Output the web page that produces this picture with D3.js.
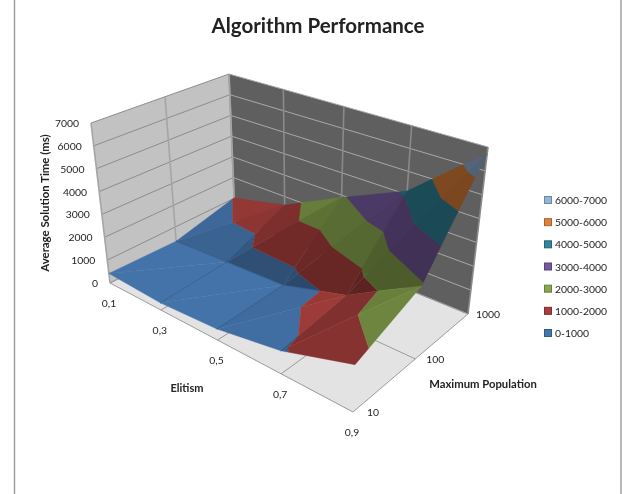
<!DOCTYPE html>
<html>
<head>
<meta charset="utf-8">
<script src="https://cdn.jsdelivr.net/npm/d3@7"></script>
<style>
    html, body { margin: 0; padding: 0; background: #fff; }
    svg { display: block; filter: blur(0.35px); }
    text { font-family: Lato, "Open Sans", sans-serif; fill: #222; }
</style>
</head>
<body>
<div id="chart"></div>
<script>
// surface values (ms), rows by max population, columns by elitism
const elitismLabels = ["0,1", "0,3", "0,5", "0,7", "0,9"];
const populationLabels = ["10", "100", "1000"];
const timesPop10 = [420, 300, 450, 900, 1780];
const timesPop100 = [350, 450, 550, 1300, 2900];
const timesPop1000 = [1020, 1600, 2900, 4150, 6700];
const zTicks = [0, 1000, 2000, 3000, 4000, 5000, 6000, 7000];

const bandNames = ["6000-7000", "5000-6000", "4000-5000", "3000-4000", "2000-3000", "1000-2000", "0-1000"];
const bandColor = ["#95b3d7", "#e0823a", "#31859c", "#775a9f", "#8aa84f", "#a83f3c", "#4676ae"];

const width = 622, height = 494;
const grid = [timesPop10, timesPop100, timesPop1000];

const svg = d3.select("#chart").append("svg")
    .attr("width", width)
    .attr("height", height);

// page edges of the chart frame
svg.append("line").attr("x1", 14.5).attr("x2", 14.5).attr("y1", 0).attr("y2", height).attr("stroke", "#999").attr("stroke-width", 1.4);
svg.append("line").attr("x1", 621).attr("x2", 621).attr("y1", 0).attr("y2", height).attr("stroke", "#999").attr("stroke-width", 1.4);

// corners of the 3D box on screen: [e=0.1/p=10, e=0.9/p=10, e=0.9/p=1000, e=0.1/p=1000]
const floorQuad = [[110, 283], [353, 412], [468, 314], [235, 219]];
const topQuad = [[91, 123], [361, 226], [488, 147], [229, 74]];

// square -> quad homography
function squareToQuad(q) {
    const [[x0, y0], [x1, y1], [x2, y2], [x3, y3]] = q;
    const dx3 = x0 - x1 + x2 - x3, dy3 = y0 - y1 + y2 - y3;
    const dx1 = x1 - x2, dx2 = x3 - x2, dy1 = y1 - y2, dy2 = y3 - y2;
    const den = dx1 * dy2 - dx2 * dy1;
    const g = (dx3 * dy2 - dx2 * dy3) / den;
    const h = (dx1 * dy3 - dx3 * dy1) / den;
    const a = x1 - x0 + g * x1, b = x3 - x0 + h * x3, d = y1 - y0 + g * y1, e = y3 - y0 + h * y3;
    return (u, v) => {
        const w = g * u + h * v + 1;
        return [(a * u + b * v + x0) / w, (d * u + e * v + y0) / w];
    };
}
const floorAt = squareToQuad(floorQuad);
const topAt = squareToQuad(topQuad);

const xE = d3.scaleLinear().domain([0, elitismLabels.length - 1]).range([0, 1]);
const yP = d3.scaleLinear().domain([0, populationLabels.length - 1]).range([0, 1]);
const zT = d3.scaleLinear().domain([0, 7000]).range([0, 1]);

// i = elitism index, j = population index, t = time
function project(i, j, t) {
    const u = xE(i), v = yP(j), w = zT(t);
    const a = floorAt(u, v), b = topAt(u, v);
    return [a[0] + (b[0] - a[0]) * w, a[1] + (b[1] - a[1]) * w];
}

const line = d3.line();
const closed = d3.line().curve(d3.curveLinearClosed);

function drawWall(pts, fill) {
    svg.append("path").attr("d", closed(pts)).attr("fill", fill);
}
const iMax = elitismLabels.length - 1, jMax = populationLabels.length - 1;

drawWall([project(0, 0, 0), project(iMax, 0, 0), project(iMax, jMax, 0), project(0, jMax, 0)], "#e3e3e3");
drawWall([project(0, 0, 0), project(0, jMax, 0), project(0, jMax, 7000), project(0, 0, 7000)], "#c2c2c2");
drawWall([project(0, jMax, 0), project(iMax, jMax, 0), project(iMax, jMax, 7000), project(0, jMax, 7000)], "#5f5f5f");

// wall + floor gridlines
const gridG = svg.append("g").attr("fill", "none");
zTicks.forEach(t => {
    gridG.append("path").attr("stroke", "#8c8c8c").attr("d", line([project(0, 0, t), project(0, jMax, t)]));
    gridG.append("path").attr("stroke", "#a8a8a8").attr("d", line([project(0, jMax, t), project(iMax, jMax, t)]));
});
d3.range(iMax + 1).forEach(i => {
    gridG.append("path").attr("stroke", "#8a8a8a").attr("stroke-width", 1.6).attr("d", line([project(i, jMax, 0), project(i, jMax, 7000)]));
    gridG.append("path").attr("stroke", "#9a9a9a").attr("d", line([project(i, 0, 0), project(i, jMax, 0)]));
});
d3.range(jMax + 1).forEach(j => {
    gridG.append("path").attr("stroke", "#a5a5a5").attr("stroke-width", 1.6).attr("d", line([project(0, j, 0), project(0, j, 7000)]));
    gridG.append("path").attr("stroke", "#9a9a9a").attr("d", line([project(0, j, 0), project(iMax, j, 0)]));
});

// clip a polygon of [i, j, t] against a time plane
function clipPoly(poly, limit, keepAbove) {
    const inside = p => keepAbove ? p[2] >= limit : p[2] <= limit;
    const out = [];
    poly.forEach((p, k) => {
        const q = poly[(k + 1) % poly.length];
        if (inside(p)) out.push(p);
        if (inside(p) !== inside(q)) {
            const s = (limit - p[2]) / (q[2] - p[2]);
            out.push([p[0] + (q[0] - p[0]) * s, p[1] + (q[1] - p[1]) * s, limit]);
        }
    });
    return out;
}

// facet brightness: light straight overhead, steeper facets go darker
function facetShade(tri) {
    const [a, b, c] = tri;
    const ux = b[0] - a[0], uy = b[1] - a[1], uz = (b[2] - a[2]) * 0.0007;
    const vx = c[0] - a[0], vy = c[1] - a[1], vz = (c[2] - a[2]) * 0.0007;
    const nx = uy * vz - uz * vy, ny = uz * vx - ux * vz, nz = ux * vy - uy * vx;
    return 0.34 + 0.64 * Math.abs(nz) / Math.hypot(nx, ny, nz);
}

function tinted(color, k) {
    const c = d3.rgb(color);
    return d3.rgb(c.r * k, c.g * k, c.b * k).formatHex();
}

// every cell -> 2 triangles split on the (i,j)-(i+1,j+1) diagonal, painted back to front
const facets = [];
d3.range(iMax).forEach(i => {
    d3.range(jMax).forEach(j => {
        const a = [i, j, grid[j][i]], b = [i + 1, j, grid[j][i + 1]],
              c = [i + 1, j + 1, grid[j + 1][i + 1]], d = [i, j + 1, grid[j + 1][i]];
        [[a, c, d], [a, b, c]].forEach(tri => {
            const cu = d3.mean(tri, p => p[0]) / iMax, cv = d3.mean(tri, p => p[1]) / jMax;
            facets.push({ tri, depth: cu - cv });
        });
    });
});
facets.sort((p, q) => d3.ascending(p.depth, q.depth));

const surface = svg.append("g");
facets.forEach(f => {
    const shade = facetShade(f.tri);
    bandNames.slice().reverse().forEach((name, k) => {
        const fill = bandColor[bandColor.length - 1 - k];
        const lo = k * 1000, hi = (k + 1) * 1000;
        let poly = clipPoly(f.tri, lo, true);
        if (poly.length) poly = clipPoly(poly, hi, false);
        if (poly.length < 3) return;
        const col = tinted(fill, shade);
        surface.append("path")
            .attr("d", closed(poly.map(p => project(p[0], p[1], p[2]))))
            .attr("fill", col)
            .attr("stroke", col)
            .attr("stroke-width", 0.4);
    });
});

// thin mesh lines only show on the lowest band
function meshSegment(p, q) {
    const seg = clipPoly([p, q], 1000, false);
    if (seg.length < 2) return;
    surface.append("path")
        .attr("d", line(seg.slice(0, 2).map(s => project(s[0], s[1], s[2]))))
        .attr("fill", "none")
        .attr("stroke", "#2f5582")
        .attr("stroke-width", 0.7);
}
grid.forEach((row, j) => row.forEach((t, i) => {
    if (i < iMax && j > 0 && j < jMax) meshSegment([i, j, t], [i + 1, j, row[i + 1]]);
    if (j < jMax && i > 0 && i < iMax) meshSegment([i, j, t], [i, j + 1, grid[j + 1][i]]);
}));

// axis text
const tickFont = 10.4;
svg.append("g").selectAll("text").data(zTicks).join("text")
    .attr("x", d => project(0, 0, d)[0] - 12)
    .attr("y", d => project(0, 0, d)[1] + 4)
    .attr("text-anchor", "end")
    .attr("font-size", tickFont)
    .text(d => d);
svg.append("g").selectAll("text").data(elitismLabels).join("text")
    .attr("x", (d, i) => project(i, 0, 0)[0] - 1)
    .attr("y", (d, i) => project(i, 0, 0)[1] + 24)
    .attr("text-anchor", "middle")
    .attr("font-size", tickFont)
    .text(d => d);
svg.append("g").selectAll("text").data(populationLabels).join("text")
    .attr("x", (d, j) => project(iMax, j, 0)[0] + 20)
    .attr("y", (d, j) => project(iMax, j, 0)[1] + 4)
    .attr("text-anchor", "middle")
    .attr("font-size", tickFont)
    .text(d => d);

svg.append("text").attr("x", 318).attr("y", 33).attr("text-anchor", "middle")
    .attr("font-size", 20.5).attr("font-weight", 700).text("Algorithm Performance");
svg.append("text").attr("transform", "translate(49,203) rotate(-90)").attr("text-anchor", "middle")
    .attr("font-size", 11.4).attr("font-weight", 700).text("Average Solution Time (ms)");
svg.append("text").attr("x", 187).attr("y", 392).attr("text-anchor", "middle")
    .attr("font-size", 11).attr("font-weight", 700).text("Elitism");
svg.append("text").attr("x", 483).attr("y", 388).attr("text-anchor", "middle")
    .attr("font-size", 11.3).attr("font-weight", 700).text("Maximum Population");

// legend
const legendY = d3.scalePoint().domain(bandNames).range([200, 333]);
const legend = svg.append("g").selectAll("g").data(bandNames).join("g")
    .attr("transform", d => `translate(544,${legendY(d)})`);
legend.append("rect").attr("x", 0.5).attr("y", -3.5).attr("width", 7).attr("height", 7)
    .attr("fill", (d, i) => bandColor[i])
    .attr("stroke", (d, i) => d3.rgb(bandColor[i]).darker(0.8));
legend.append("text").attr("x", 11).attr("y", 4).attr("font-size", tickFont).text(d => d);
</script>
</body>
</html>
